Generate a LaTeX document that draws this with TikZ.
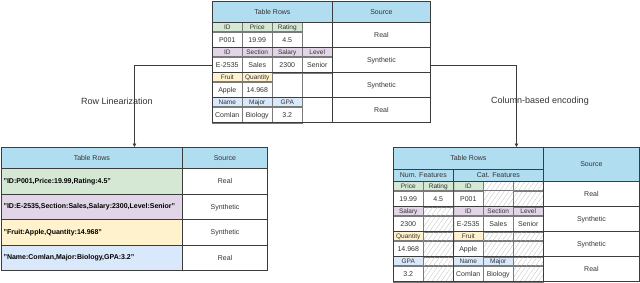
\documentclass[tikz,border=0pt]{standalone}
\usepackage{fontspec}
\setmainfont{Liberation Sans}
\usetikzlibrary{arrows.meta,positioning,patterns.meta}
\definecolor{headblue}{HTML}{B1DDF0}
\definecolor{rowgreen}{HTML}{D5E8D4}
\definecolor{rowpurple}{HTML}{E1D5E7}
\definecolor{rowyellow}{HTML}{FFF2CC}
\definecolor{rowblue}{HTML}{DAE8FC}
\definecolor{framegray}{HTML}{3C3C3C}
\definecolor{gridgray}{HTML}{7A7A7A}
\definecolor{textgray}{HTML}{333333}

\begin{document}
\begin{tikzpicture}[x=1pt, y=-1pt]
\tikzset{
  celltext/.style={text=textgray, font=\fontsize{7}{8}\selectfont, text height=5pt, text depth=0pt},
  cell/.style={draw=gridgray, line width=0.5pt, inner sep=0pt, anchor=north west, minimum width=30pt, celltext},
  strip/.style={cell, minimum height=9pt, font=\fontsize{6.5}{7}\selectfont, text height=4.6pt},
  value/.style={cell, minimum height=16pt},
  hatch/.style={pattern={Lines[angle=55, distance=3.8pt, line width=0.3pt]}, pattern color=gray!50},
  head/.style={draw=framegray, line width=0.8pt, fill=headblue, inner sep=0pt, anchor=north west, celltext},
  srccell/.style={draw=framegray, line width=0.8pt, inner sep=0pt, anchor=north west, minimum width=#1, minimum height=25pt, celltext},
  frame/.style={draw=framegray, line width=0.9pt, inner sep=0pt, anchor=north west},
  rowframe/.style={frame, line width=1.1pt},
  linrow/.style={draw=framegray, line width=1.1pt, anchor=north west, minimum height=25.5pt, text width=177pt, inner xsep=2pt, inner ysep=0pt, align=left, font=\fontsize{7}{8}\selectfont\bfseries, text=black},
  conn/.style={draw=framegray, line width=0.8pt, -{Triangle[width=3.5pt, length=3.5pt]}},
  edgelabel/.style={text=textgray, font=\fontsize{9}{10}\selectfont}
}
\useasboundingbox (0,0) rectangle (640,282);

% raw table rows
\node[head, minimum width=120pt, minimum height=21pt] (rawhead) at (212,1) {Table Rows};
\node[head, minimum width=98pt, minimum height=21pt] (rawsrchead) at (332,1) {Source};
\foreach \r/\col/\cells in {0/rowgreen/{ID/P001,Price/19.99,Rating/4.5},
    1/rowpurple/{ID/E-2535,Section/Sales,Salary/2300,Level/Senior},
    2/rowyellow/{Fruit/Apple,Quantity/14.968},
    3/rowblue/{Name/Comlan,Major/Biology,GPA/3.2}}
  \foreach \lab/\val [count=\i from 0] in \cells {
    \node[strip, fill=\col] (raw\r\i) at ({212+30*\i},{22+25*\r}) {\lab};
    \node[value, below=0pt of raw\r\i] (rawv\r\i) {\val};
  }
\foreach \r/\i in {0/3,2/2,2/3,3/3}
  \node[cell, minimum height=25pt] (rawe\r\i) at ({212+30*\i},{22+25*\r}) {};
\foreach \r in {0,...,3}
  \node[rowframe, minimum width=218pt, minimum height=25pt] (rawrow\r) at (212,{22+25*\r}) {};
\foreach \r/\src in {0/Real,1/Synthetic,2/Synthetic,3/Real}
  \node[srccell=98pt] (rawsrc\r) at (332,{22+25*\r}) {\src};
\node[frame, minimum width=218pt, minimum height=121pt] (rawtab) at (212,1) {};

% row linearization
\node[head, minimum width=181pt, minimum height=21pt] (linhead) at (1,147) {Table Rows};
\node[head, minimum width=85pt, minimum height=21pt] (linsrchead) at (182,147) {Source};
\foreach \r/\col/\txt/\src in {0/rowgreen/{"ID:P001,Price:19.99,Rating:4.5"}/Real,
    1/rowpurple/{"ID:E-2535,Section:Sales,Salary:2300,Level:Senior"}/Synthetic,
    2/rowyellow/{"Fruit:Apple,Quantity:14.968"}/Synthetic,
    3/rowblue/{"Name:Comlan,Major:Biology,GPA:3.2"}/Real} {
  \node[linrow, fill=\col] (lin\r) at (1,{168+25.5*\r}) {\txt};
  \node[srccell=85pt, minimum height=25.5pt, line width=1.1pt] (linsrc\r) at (182,{168+25.5*\r}) {\src};
}
\node[frame, minimum width=266pt, minimum height=123pt] (lintab) at (1,147) {};

% column-based encoding
\node[head, minimum width=150pt, minimum height=22pt] (colhead) at (393,147) {Table Rows};
\node[head, minimum width=60pt, minimum height=12pt] (colnum) at (393,169) {Num. Features};
\node[head, minimum width=90pt, minimum height=12pt] (colcat) at (453,169) {Cat. Features};
\node[head, minimum width=96pt, minimum height=34pt] (colsrchead) at (543,147) {Source};
\foreach \r/\col/\cells in {0/rowgreen/{0/Price/19.99,1/Rating/4.5,2/ID/P001},
    1/rowpurple/{0/Salary/2300,2/ID/E-2535,3/Section/Sales,4/Level/Senior},
    2/rowyellow/{0/Quantity/14.968,2/Fruit/Apple},
    3/rowblue/{0/GPA/3.2,2/Name/Comlan,3/Major/Biology}}
  \foreach \i/\lab/\val in \cells {
    \node[strip, fill=\col] (col\r\i) at ({393+30*\i},{181+25*\r}) {\lab};
    \node[value, below=0pt of col\r\i] (colv\r\i) {\val};
  }
\foreach \r/\i in {0/3,0/4,1/1,2/1,2/3,2/4,3/1,3/4} {
  \node[strip, hatch] (col\r\i) at ({393+30*\i},{181+25*\r}) {};
  \node[value, hatch, below=0pt of col\r\i] (colv\r\i) {};
}
\foreach \r in {0,...,3}
  \node[rowframe, minimum width=246pt, minimum height=25pt] (colrow\r) at (393,{181+25*\r}) {};
\draw[framegray, line width=0.8pt] (colnum.south east) -- (colv31.south east);
\foreach \r/\src in {0/Real,1/Synthetic,2/Synthetic,3/Real}
  \node[srccell=96pt] (colsrc\r) at (543,{181+25*\r}) {\src};
\node[frame, minimum width=246pt, minimum height=134pt] (coltab) at (393,147) {};

% connectors
\draw[conn] ([yshift=-3.5pt]rawtab.west) -| (lintab.north);
\draw[conn] ([yshift=-3.5pt]rawtab.east) -| (coltab.north);
\node[edgelabel] (linlabel) at (117,101) {Row Linearization};
\node[edgelabel] (collabel) at (540,101) {Column-based encoding};
\end{tikzpicture}
\end{document}
